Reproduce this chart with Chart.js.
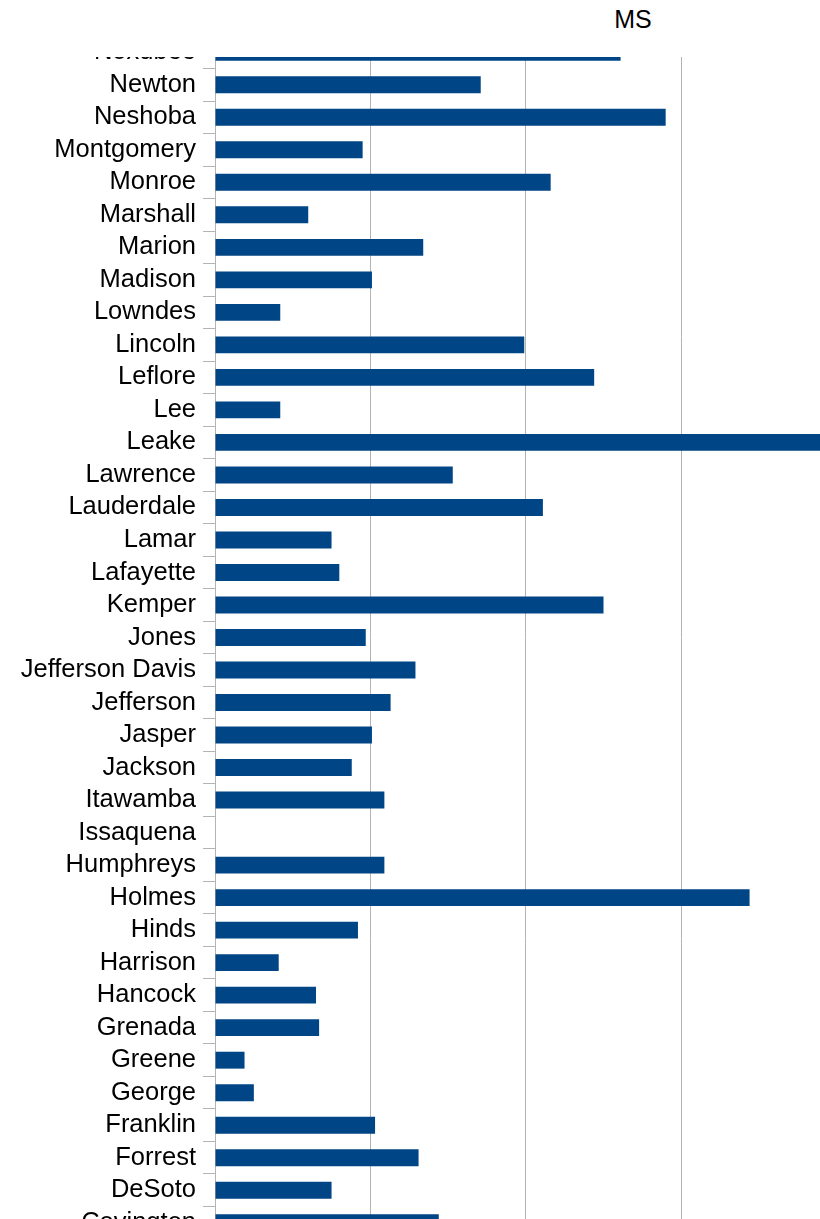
<!DOCTYPE html>
<html>
<head>
<meta charset="utf-8">
<title>MS</title>
<script src="https://cdn.jsdelivr.net/npm/chart.js@4/dist/chart.umd.min.js"></script>
<style>
  html, body { margin: 0; padding: 0; background: #fff; overflow: hidden; }
  #page { position: relative; width: 820px; height: 1219px; overflow: hidden; background: #fff; }
  #title {
    position: absolute; left: 633px; top: 7px; transform: translateX(-50%);
    font-family: "Liberation Sans", Arial, sans-serif; font-size: 25px; line-height: 25px; color: #000;
  }
  #plot { position: absolute; left: 0; top: 57px; width: 820px; height: 1162px; overflow: hidden; }
  #wrap { position: absolute; left: 0; top: -31px; width: 1000px; height: 1223px; }
</style>
</head>
<body>
<div id="page">
  <div id="title">MS</div>
  <div id="plot">
    <div id="wrap"><canvas id="msChart"></canvas></div>
  </div>
</div>

<script>
// counties shown, top to bottom
const counties = [
  "Noxubee", "Newton", "Neshoba", "Montgomery", "Monroe", "Marshall", "Marion",
  "Madison", "Lowndes", "Lincoln", "Leflore", "Lee", "Leake", "Lawrence",
  "Lauderdale", "Lamar", "Lafayette", "Kemper", "Jones", "Jefferson Davis",
  "Jefferson", "Jasper", "Jackson", "Itawamba", "Issaquena", "Humphreys",
  "Holmes", "Hinds", "Harrison", "Hancock", "Grenada", "Greene", "George",
  "Franklin", "Forrest", "DeSoto", "Covington"
];

// values (gridline step = 10)
const msValues = [
  26.1, 17.1, 29.0, 9.5, 21.6, 6.0, 13.4,
  10.1, 4.2, 19.9, 24.4, 4.2, 40.0, 15.3,
  21.1, 7.5, 8.0, 25.0, 9.7, 12.9,
  11.3, 10.1, 8.8, 10.9, 0, 10.9,
  34.4, 9.2, 4.1, 6.5, 6.7, 1.9, 2.5,
  10.3, 13.1, 7.5, 14.4
];

const xMin = 0;
const xMax = 50;
const xStep = 10;

const barColor = "#004586";
const gridColor = "#b3b3b3";

window.onload = function() {
    const ctx = document.getElementById("msChart").getContext("2d");

    new Chart(ctx, {
        type: "bar",
        data: {
            labels: counties,
            datasets: [{
                label: "MS",
                data: msValues,
                backgroundColor: barColor,
                borderWidth: 0,
                barPercentage: 0.52,
                categoryPercentage: 1.0
            }]
        },
        options: {
            indexAxis: "y",
            responsive: true,
            maintainAspectRatio: false,
            animation: false,
            layout: { padding: { top: 10, bottom: 10, left: 0, right: 8 } },
            plugins: {
                legend: { display: false },
                title: { display: false },
                tooltip: { enabled: false }
            },
            scales: {
                x: {
                    min: xMin,
                    max: xMax,
                    ticks: { display: false, stepSize: xStep },
                    grid: { color: gridColor, lineWidth: 1, drawTicks: false },
                    border: { display: false },
                    afterFit: s => { s.height = 0; s.paddingLeft = 0; s.paddingRight = 0; }
                },
                y: {
                    ticks: {
                        color: "#000",
                        padding: 7,
                        autoSkip: false,
                        font: { family: "'Liberation Sans', Arial, sans-serif", size: 25.5 }
                    },
                    grid: {
                        offset: true,
                        drawOnChartArea: false,
                        drawTicks: true,
                        tickLength: 12,
                        color: gridColor
                    },
                    border: { display: true, color: gridColor },
                    // keep the plot box fixed: 215px of labels, no extra label padding
                    afterFit: s => { s.width = 215; s.paddingTop = 0; s.paddingBottom = 0; }
                }
            }
        }
    });
};
</script>
</body>
</html>
